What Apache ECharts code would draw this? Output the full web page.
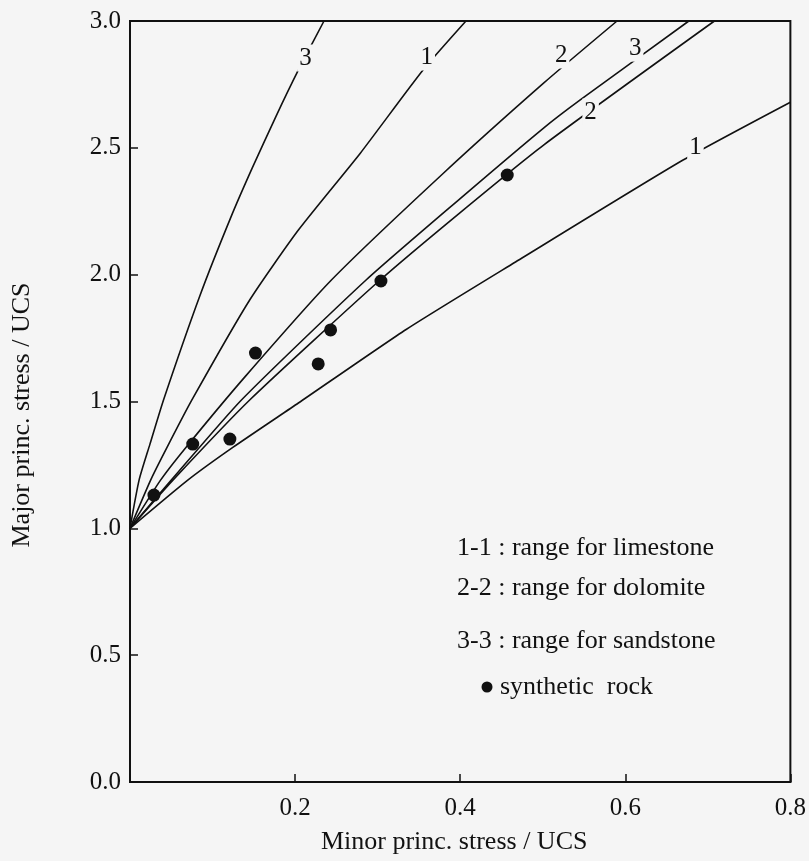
<!DOCTYPE html>
<html>
<head>
<meta charset="utf-8">
<script src="https://cdn.jsdelivr.net/npm/echarts@6/dist/echarts.min.js"></script>
<style>
  html, body { margin: 0; padding: 0; background: #f5f5f5; }
  #chart { width: 809px; height: 861px; }
</style>
</head>
<body>
<div id="chart"></div>
<script>
// Strength envelopes: [minor principal stress / UCS, major principal stress / UCS]
const limestoneUpper = [[0,1],[0.025,1.19],[0.045,1.32],[0.075,1.506],[0.145,1.90],[0.204,2.176],[0.279,2.479],[0.355,2.807],[0.407,3.0]];
const limestoneLower = [[0,1],[0.07,1.19],[0.125,1.32],[0.204,1.494],[0.335,1.785],[0.467,2.05],[0.67,2.452],[0.8,2.68]];
const dolomiteUpper  = [[0,1],[0.037,1.19],[0.068,1.32],[0.14,1.60],[0.244,1.979],[0.378,2.395],[0.501,2.755],[0.59,3.0]];
const dolomiteLower  = [[0,1],[0.052,1.19],[0.145,1.506],[0.303,1.979],[0.40,2.245],[0.501,2.511],[0.708,3.0]];
const sandstoneUpper = [[0,1],[0.011,1.19],[0.024,1.33],[0.041,1.51],[0.085,1.92],[0.122,2.225],[0.148,2.42],[0.177,2.625],[0.203,2.80],[0.235,3.0]];
const sandstoneLower = [[0,1],[0.05,1.19],[0.135,1.506],[0.286,1.979],[0.40,2.30],[0.501,2.578],[0.545,2.688],[0.677,3.0]];

// Test results on the synthetic rock
const syntheticRock = [[0.029,1.131],[0.076,1.332],[0.121,1.352],[0.152,1.691],[0.228,1.648],[0.243,1.782],[0.304,1.975],[0.457,2.393]];

// Curve numbers written on the envelopes
const curveTags = [[0.2125,2.854,'3'],[0.3595,2.858,'1'],[0.5223,2.866,'2'],[0.612,2.893,'3'],[0.558,2.641,'2'],[0.685,2.503,'1']];

// Key text
const legendLines = ['1-1 : range for limestone', '2-2 : range for dolomite', '3-3 : range for sandstone'];
const pointLegend = 'synthetic  rock';
const xTitle = 'Minor princ. stress / UCS';
const yTitle = 'Major princ. stress / UCS';

const FONT = '"Liberation Serif", "Times New Roman", serif';
const INK = '#111';
const PAPER = '#f5f5f5';

const chart = echarts.init(document.getElementById('chart'), null, { renderer: 'canvas' });

function envelope(data) {
  return {
    type: 'line',
    data: data,
    showSymbol: false,
    smooth: 0.2,
    silent: true,
    z: 2,
    lineStyle: { color: INK, width: 1.6 }
  };
}

const legendBaselines = [548, 588, 641];

chart.setOption({
  animation: false,
  backgroundColor: PAPER,
  grid: { left: 130, right: 18, top: 21, bottom: 79, show: true, borderColor: INK, borderWidth: 2, backgroundColor: 'transparent' },
  xAxis: {
    type: 'value', min: 0, max: 0.8, interval: 0.2,
    name: xTitle, nameLocation: 'middle', nameGap: 47,
    nameTextStyle: { fontFamily: FONT, fontSize: 26, color: INK, padding: [0, 12, 0, 0] },
    axisLine: { show: true, lineStyle: { color: INK, width: 2 } },
    axisTick: { show: true, inside: true, length: 8, lineStyle: { color: INK, width: 1.5 } },
    splitLine: { show: false },
    axisLabel: { fontFamily: FONT, fontSize: 25, color: INK, margin: 14,
      formatter: v => (v === 0 ? '' : v.toFixed(1)) }
  },
  yAxis: {
    type: 'value', min: 0, max: 3, interval: 0.5,
    axisLine: { show: true, lineStyle: { color: INK, width: 2 } },
    axisTick: { show: true, inside: true, length: 8, lineStyle: { color: INK, width: 1.5 } },
    splitLine: { show: false },
    axisLabel: { fontFamily: FONT, fontSize: 25, color: INK, margin: 9,
      formatter: v => v.toFixed(1) }
  },
  graphic: [
    { type: 'text', x: 22, y: 415, rotation: Math.PI / 2,
      style: { text: yTitle, font: '26px ' + FONT, fill: INK, textAlign: 'center', textVerticalAlign: 'middle' } },
    ...legendLines.map((t, i) => ({ type: 'text', x: 457, y: legendBaselines[i],
      style: { text: t, font: '26px ' + FONT, fill: INK, textAlign: 'left', textVerticalAlign: 'middle' } })),
    { type: 'circle', shape: { cx: 487, cy: 687, r: 5.5 }, style: { fill: INK } },
    { type: 'text', x: 500, y: 687,
      style: { text: pointLegend, font: '26px ' + FONT, fill: INK, textAlign: 'left', textVerticalAlign: 'middle' } }
  ],
  series: [
    envelope(sandstoneUpper),
    envelope(limestoneUpper),
    envelope(dolomiteUpper),
    envelope(sandstoneLower),
    envelope(dolomiteLower),
    envelope(limestoneLower),
    {
      type: 'scatter',
      data: curveTags,
      encode: { x: 0, y: 1 },
      symbolSize: 1,
      silent: true,
      z: 5,
      itemStyle: { color: PAPER, opacity: 1 },
      label: {
        show: true, position: 'inside',
        formatter: p => p.value[2],
        fontFamily: FONT, fontSize: 25, color: INK, opacity: 1,
        backgroundColor: PAPER, padding: [1, 2]
      }
    },
    {
      type: 'scatter',
      data: syntheticRock,
      symbol: 'circle',
      symbolSize: 13,
      silent: true,
      z: 6,
      itemStyle: { color: INK, opacity: 1 }
    }
  ]
});
</script>
</body>
</html>
